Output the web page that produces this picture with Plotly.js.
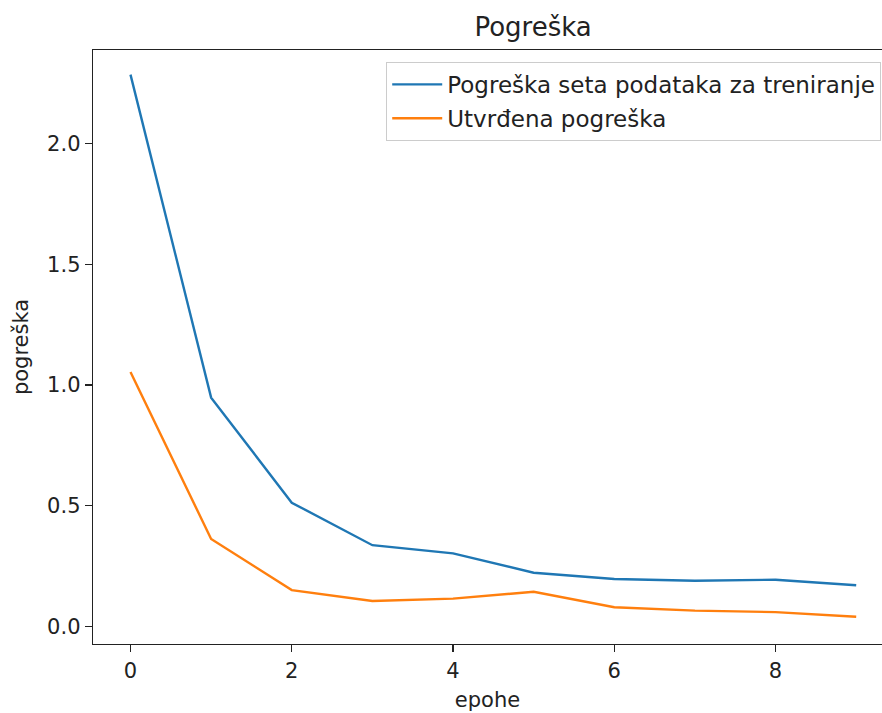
<!DOCTYPE html>
<html><head><meta charset="utf-8">
<script src="https://cdn.plot.ly/plotly-3.0.1.min.js"></script>
<style>html,body{margin:0;padding:0;overflow:hidden;background:#fff;}#chart{width:882px;height:713px;}</style>
</head><body><div id="chart"></div>
<script>
const epochs = [0,1,2,3,4,5,6,7,8,9];
const trainLoss = [2.285, 0.948, 0.513, 0.337, 0.303, 0.223, 0.197, 0.190, 0.194, 0.171];
const valLoss = [1.054, 0.363, 0.151, 0.106, 0.116, 0.144, 0.080, 0.066, 0.060, 0.041];
const seriesNames = ['Pogreška seta podataka za treniranje', 'Utvrđena pogreška'];
const xTicks = [0,2,4,6,8];
const yTicks = [0.0,0.5,1.0,1.5,2.0];
const yTickText = ['0.0','0.5','1.0','1.5','2.0'];

const font = 'DejaVu Sans, sans-serif';
const fs = 21;
const traces = [
  {x: epochs, y: trainLoss, name: seriesNames[0], legendgroup: 'a', mode: 'lines', line: {color: '#1f77b4', width: 2.4}},
  {x: epochs, y: valLoss, name: seriesNames[1], legendgroup: 'b', mode: 'lines', line: {color: '#ff7f0e', width: 2.4}}
];
const axisCommon = {showgrid: false, zeroline: false, showline: true, linecolor: '#222', linewidth: 1.3,
  ticks: 'outside', ticklen: 7, tickwidth: 1.3, tickcolor: '#222', tickfont: {family: font, size: fs, color: '#222'}};
const layout = {
  width: 882, height: 713,
  margin: {l: 93, r: 0, t: 50, b: 69, autoexpand: false},
  paper_bgcolor: '#fff', plot_bgcolor: '#fff',
  font: {family: font, color: '#222'},
  title: {text: 'Pogreška', font: {family: font, size: 26, color: '#222'}, x: (492 / 882), xanchor: 'center', xref: 'paper', y: 0.962, yanchor: 'middle'},
  xaxis: Object.assign({}, axisCommon, {mirror: true, range: [-0.465, 9.32], tickvals: xTicks, ticktext: xTicks.map(String),
    title: {text: 'epohe', font: {family: font, size: fs, color: '#222'}, standoff: 10}}),
  yaxis: Object.assign({}, axisCommon, {mirror: false, range: [-0.072, 2.387], tickvals: yTicks, ticktext: yTickText,
    title: {text: 'pogreška', font: {family: font, size: fs, color: '#222'}, standoff: 12}}),
  showlegend: true,
  legend: {x: 0.999, xanchor: 'right', y: 0.98, yanchor: 'top', bgcolor: 'rgba(255,255,255,0.8)', itemwidth: 50,
    bordercolor: '#cccccc', borderwidth: 1, font: {family: font, size: 23, color: '#222'}, tracegroupgap: 1}
};
Plotly.newPlot('chart', traces, layout, {displayModeBar: false, staticPlot: true});
</script></body></html>
